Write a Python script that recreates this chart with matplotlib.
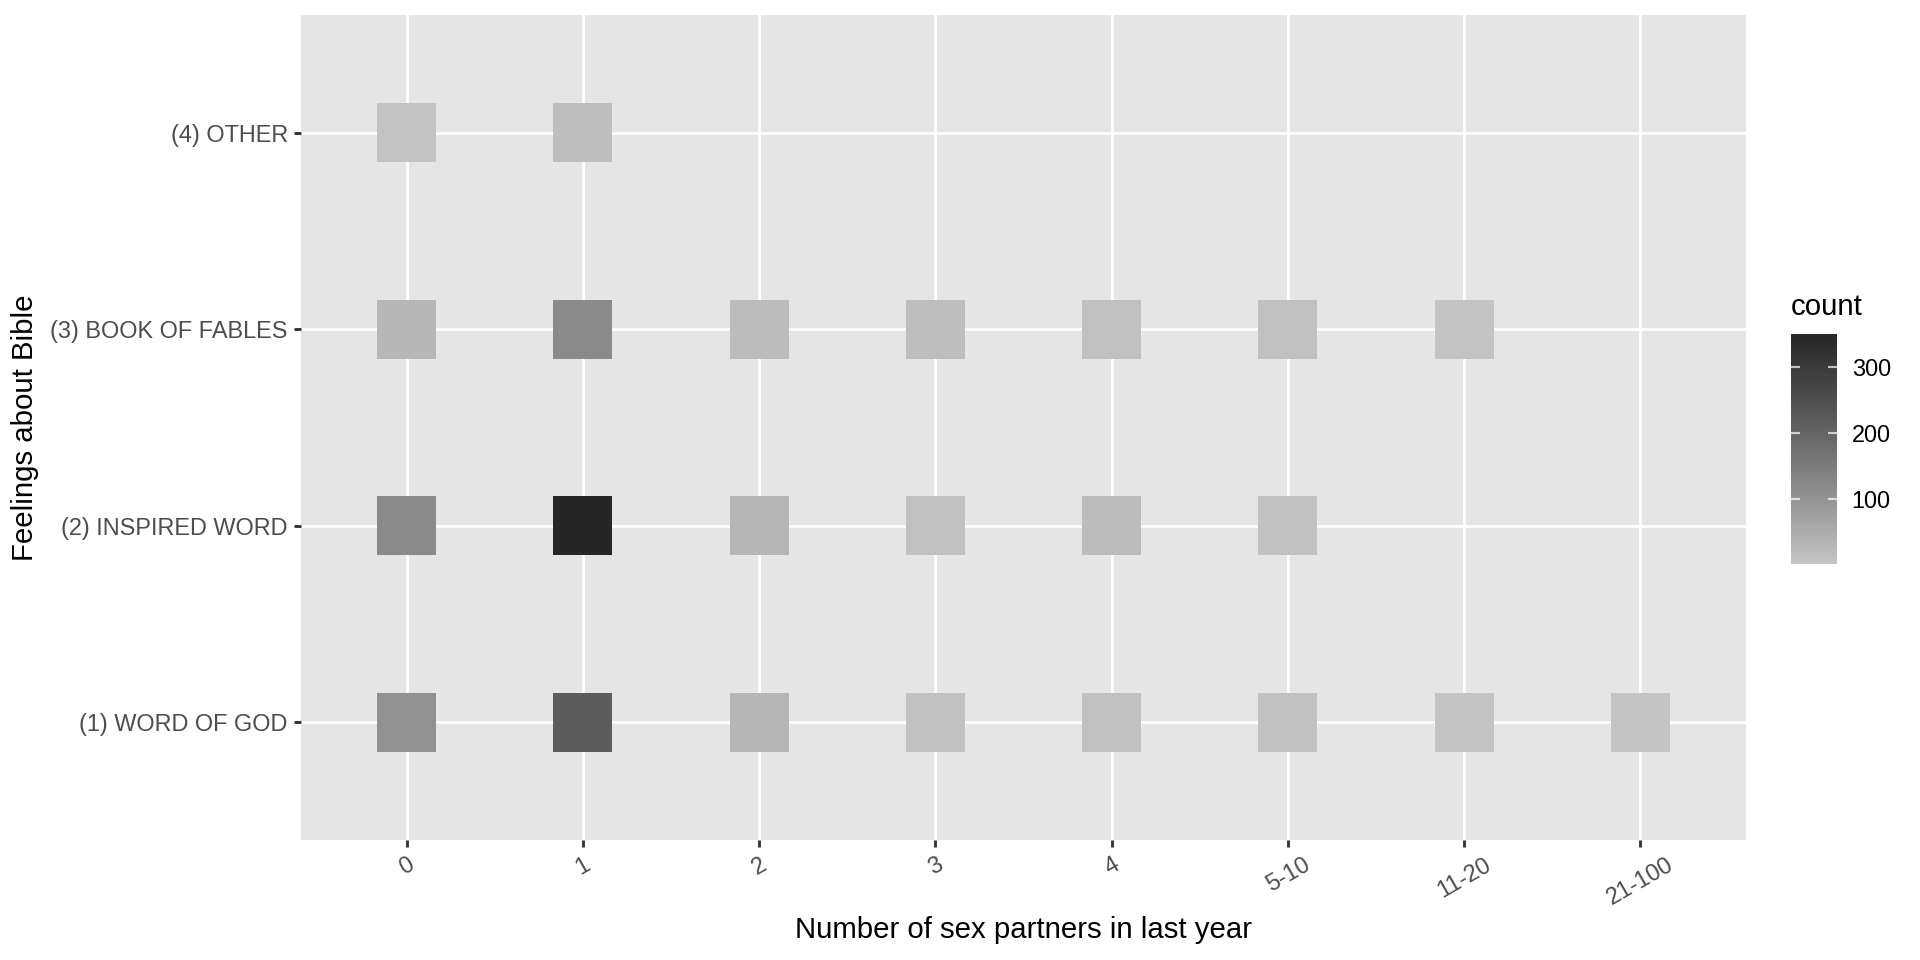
import numpy as np
import matplotlib
matplotlib.use("Agg")
import matplotlib.pyplot as plt
from matplotlib.colors import ListedColormap, Normalize

plt.rcParams['font.family'] = ['Liberation Sans', 'DejaVu Sans']

# ---- data ----
partners = ["0", "1", "2", "3", "4", "5-10", "11-20", "21-100"]
feelings = ["(1) WORD OF GOD", "(2) INSPIRED WORD", "(3) BOOK OF FABLES", "(4) OTHER"]

word_of_god   = [105, 220, 31, 9, 11, 9, 6, 2]
inspired_word = [120, 350, 31, 11, 19, 9]
book_of_fables = [29, 120, 19, 13, 11, 11, 6]
other         = [4, 13]

rows = [word_of_god, inspired_word, book_of_fables, other]

# ---- colour scale: grey gradient interpolated in Lab lightness ----
def grey_to_L(v):
    c = v / 255.0
    Y = ((c + 0.055) / 1.055) ** 2.4 if c > 0.04045 else c / 12.92
    f = Y ** (1 / 3) if Y > 0.008856 else 7.787 * Y + 16 / 116
    return 116 * f - 16

def L_to_grey(L):
    fy = (L + 16) / 116
    Y = fy ** 3 if fy ** 3 > 0.008856 else (fy - 16 / 116) / 7.787
    c = 1.055 * Y ** (1 / 2.4) - 0.055 if Y > 0.0031308 else 12.92 * Y
    return min(max(c, 0), 1)

L_low, L_high = grey_to_L(0xC4), grey_to_L(0x26)
cols = [(g, g, g) for g in (L_to_grey(L_low + (L_high - L_low) * t) for t in np.linspace(0, 1, 256))]
cmap = ListedColormap(cols)

xs, ys, cs = [], [], []
for j, r in enumerate(rows):
    for i, v in enumerate(r):
        xs.append(i)
        ys.append(j)
        cs.append(v)
norm = Normalize(vmin=min(cs), vmax=max(cs))

# ---- figure ----
DPI = 192
fig = plt.figure(figsize=(1920 / DPI, 960 / DPI), dpi=DPI)
W, H = 1920, 960
ax = fig.add_axes([301 / W, 1 - 840 / H, (1746 - 301) / W, (840 - 15) / H])
ax.set_facecolor('#E5E5E5')
for s in ax.spines.values():
    s.set_visible(False)

ax.set_xlim(-0.6, len(partners) - 1 + 0.6)
ax.set_ylim(-0.6, len(feelings) - 1 + 0.6)
ax.set_xticks(range(len(partners)))
ax.set_yticks(range(len(feelings)))
ax.set_xticklabels(partners, rotation=30, ha='center', va='top')
ax.set_yticklabels(feelings)
ax.grid(True, color='white', linewidth=1.07)
ax.set_axisbelow(True)
ax.tick_params(axis='both', length=2.75, width=1.07, color='#333333',
               labelsize=8.8, labelcolor='#4D4D4D', pad=2.2)

side = 59 / DPI * 72
sc = ax.scatter(xs, ys, c=cs, cmap=cmap, norm=norm, marker='s', s=side ** 2,
                linewidths=0, zorder=3)

ax.set_xlabel("Number of sex partners in last year", fontsize=11, color='black')
ax.set_ylabel("Feelings about Bible", fontsize=11, color='black')
ax.xaxis.set_label_coords(0.5, -(930 - 840) / (840 - 15), transform=ax.transAxes)
ax.xaxis.label.set_va('center')
ax.yaxis.set_label_coords(-(301 - 24.5) / (1746 - 301), 0.5, transform=ax.transAxes)
ax.yaxis.label.set_va('center')

# ---- colourbar ----
cax = fig.add_axes([1791 / W, 1 - 564 / H, 46 / W, 230 / H])
cb = fig.colorbar(sc, cax=cax)
cb.outline.set_visible(False)
cb.set_ticks([100, 200, 300])
cax.tick_params(length=0, labelsize=8.8, labelcolor='black', pad=5.5)
for v in [100, 200, 300]:
    cax.plot([0, 0.2], [v, v], color='white', lw=0.8, alpha=0.7,
             transform=cax.get_yaxis_transform(), solid_capstyle='butt')
    cax.plot([0.8, 1.0], [v, v], color='white', lw=0.8, alpha=0.7,
             transform=cax.get_yaxis_transform(), solid_capstyle='butt')
fig.text(1791 / W, 1 - 307 / H, "count", fontsize=11, ha='left', va='center')

fig.savefig("out.png", dpi=DPI)
